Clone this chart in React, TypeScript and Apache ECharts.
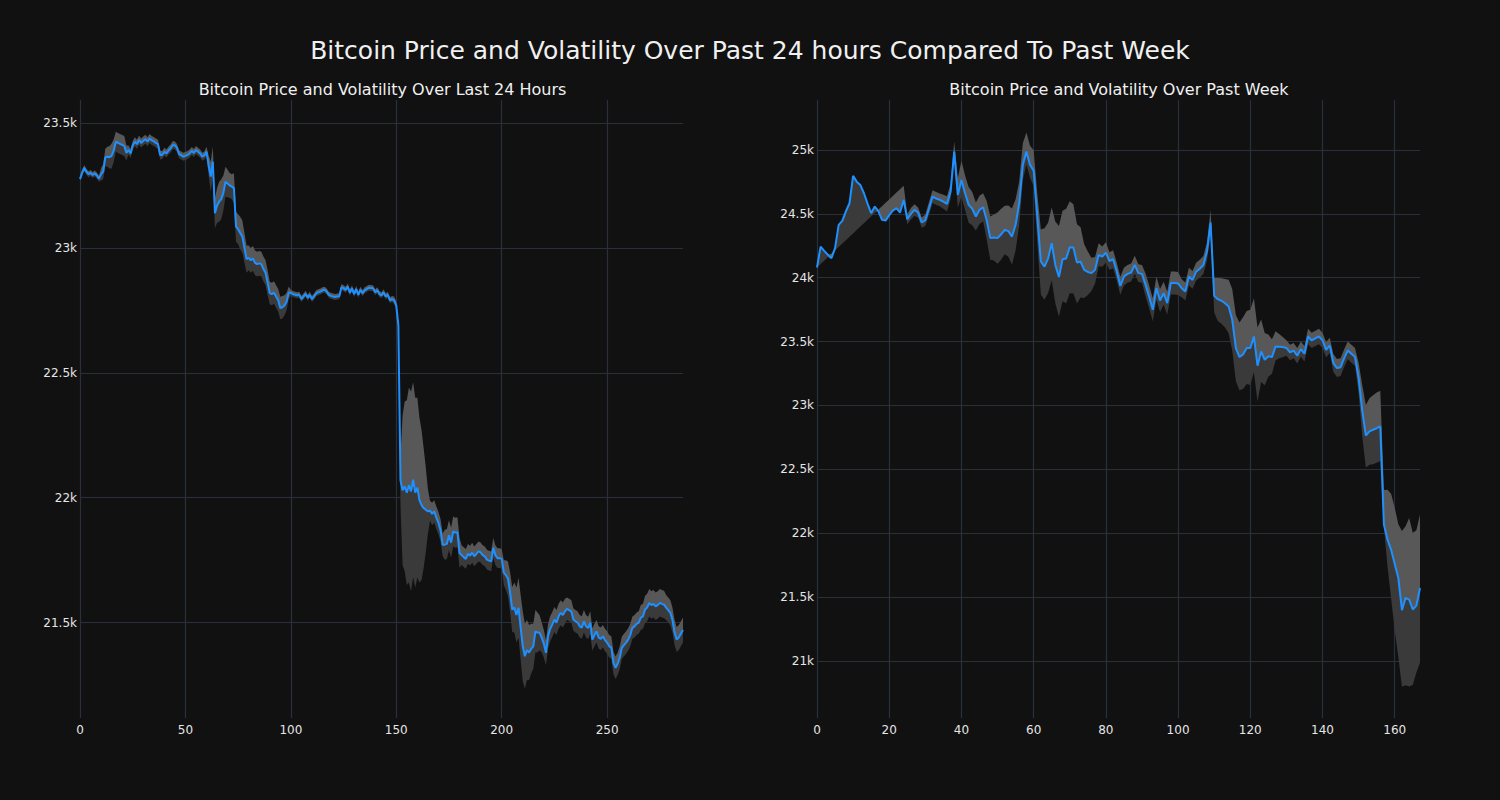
import React, { useEffect, useRef } from "react";
import * as echarts from "echarts";

// ---- Last 24 hours (5-minute steps) ----
const dayPrice: number[] = [
  23275, 23300, 23320, 23305, 23295, 23300, 23292, 23298, 23290, 23277,
  23295, 23305, 23362, 23365, 23363, 23368, 23390, 23425, 23420, 23416,
  23412, 23408, 23380, 23392, 23378, 23410, 23425, 23415, 23432, 23420,
  23428, 23435, 23425, 23438, 23430, 23426, 23420, 23415, 23372, 23372,
  23385, 23378, 23390, 23398, 23412, 23410, 23400, 23375, 23370, 23365,
  23368, 23372, 23378, 23388, 23380, 23392, 23385, 23378, 23365, 23370,
  23385, 23330, 23285, 23345, 23139, 23170, 23185, 23195, 23220, 23265,
  23258, 23250, 23245, 23239, 23085, 23075, 23060, 23045, 23000, 22955,
  22960, 22950, 22958, 22940, 22935, 22938, 22935, 22915, 22900, 22860,
  22819, 22815, 22821, 22805, 22790, 22759, 22762, 22770, 22785, 22820,
  22820, 22815, 22812, 22810, 22812, 22795, 22805, 22816, 22800, 22812,
  22795, 22805, 22818, 22822, 22825, 22830, 22832, 22825, 22812, 22808,
  22805, 22803, 22805, 22806, 22843, 22838, 22832, 22845, 22820, 22838,
  22815, 22835, 22812, 22832, 22818, 22830, 22835, 22840, 22839, 22838,
  22822, 22830, 22815, 22810, 22822, 22805, 22812, 22790, 22795, 22790,
  22770, 22690, 22070, 22030, 22045, 22020, 22050, 22025, 22072, 22020,
  22040, 21990, 21970, 21958, 21952, 21945, 21948, 21935, 21945, 21920,
  21899, 21870, 21812, 21812, 21815, 21850, 21820, 21865, 21860, 21862,
  21779, 21770, 21762, 21755, 21775, 21768, 21780, 21765, 21775, 21785,
  21781, 21770, 21765, 21752, 21748, 21745, 21799, 21770, 21758, 21758,
  21755, 21700, 21690, 21675, 21620, 21552, 21560, 21530, 21559, 21480,
  21405, 21365, 21390, 21380, 21395, 21405, 21465, 21460, 21459, 21440,
  21415, 21379, 21445, 21475, 21492, 21512, 21500, 21525, 21539, 21530,
  21545, 21555, 21550, 21545, 21512, 21505, 21500, 21485, 21480, 21505,
  21485, 21478, 21500, 21432, 21450, 21465, 21440, 21435, 21445, 21430,
  21420, 21405, 21400, 21339, 21319, 21335, 21360, 21399, 21410, 21420,
  21432, 21450, 21479, 21485, 21495, 21500, 21520, 21525, 21552, 21560,
  21579, 21570, 21575, 21565, 21570, 21579, 21575, 21572, 21560, 21550,
  21539, 21510, 21460, 21432, 21440, 21455, 21470,
];

const dayVolatility: number[] = [
  12, 12, 12, 12, 12, 12, 12, 12, 12, 12,
  25, 30, 35, 40, 45, 50, 45, 40, 40, 40,
  40, 40, 30, 18, 18, 18, 18, 18, 18, 18,
  18, 18, 18, 18, 18, 18, 18, 18, 18, 16,
  16, 16, 16, 16, 16, 16, 16, 16, 16, 16,
  16, 16, 16, 16, 16, 16, 16, 16, 16, 16,
  20, 40, 60, 60, 60, 70, 80, 80, 70, 60,
  55, 50, 50, 60, 60, 60, 65, 65, 60, 55,
  50, 50, 50, 50, 50, 50, 50, 50, 50, 50,
  45, 45, 45, 45, 45, 45, 45, 40, 35, 25,
  12, 12, 12, 12, 12, 12, 12, 12, 12, 12,
  12, 12, 12, 12, 12, 12, 12, 12, 12, 12,
  12, 12, 12, 12, 12, 12, 12, 12, 12, 12,
  12, 12, 12, 12, 12, 12, 12, 12, 12, 12,
  12, 12, 12, 12, 12, 12, 12, 12, 12, 15,
  15, 15, 100, 300, 340, 370, 390, 400, 390, 380,
  360, 330, 300, 240, 170, 90, 40, 45, 45, 45,
  45, 45, 45, 60, 60, 60, 60, 60, 60, 60,
  60, 40, 40, 40, 40, 40, 40, 40, 40, 40,
  40, 40, 40, 40, 40, 40, 40, 40, 40, 40,
  40, 50, 60, 70, 80, 90, 100, 110, 120, 130,
  140, 130, 120, 110, 100, 90, 85, 80, 70, 60,
  55, 50, 50, 50, 50, 50, 50, 50, 50, 50,
  50, 45, 45, 45, 45, 45, 45, 45, 45, 45,
  45, 45, 45, 45, 45, 45, 45, 45, 45, 45,
  45, 45, 45, 45, 45, 45, 45, 45, 45, 45,
  45, 45, 45, 45, 45, 45, 50, 50, 55, 55,
  55, 55, 55, 55, 55, 55, 55, 55, 50, 50,
  50, 50, 50, 50, 50, 50, 50,
];

// ---- Past week (hourly) ----
const weekPrice: number[] = [
  24080, 24244, 24210, 24180, 24153, 24231, 24414, 24445, 24520, 24583,
  24797, 24752, 24726, 24661, 24580, 24505, 24557, 24520, 24453, 24447,
  24490, 24525, 24544, 24510, 24609, 24458, 24500, 24531, 24510, 24432,
  24450, 24540, 24635, 24620, 24610, 24595, 24578, 24674, 24987, 24648,
  24765, 24661, 24570, 24540, 24479, 24531, 24552, 24450, 24310, 24315,
  24310, 24340, 24374, 24365, 24322, 24414, 24583, 24883, 24987, 24883,
  24838, 24480, 24127, 24087, 24150, 24270, 24100, 24005, 24145, 24150,
  24239, 24236, 24119, 24125, 24062, 24045, 24036, 24062, 24179, 24165,
  24197, 24130, 24145, 24050, 23937, 24009, 24030, 24041, 24101, 24036,
  24030, 23944, 23850, 23749, 23918, 23822, 23879, 23801, 23958, 23958,
  23955, 23918, 23892, 24009, 23983, 24048, 24070, 24100, 24205, 24431,
  23858, 23832, 23820, 23800, 23775, 23671, 23449, 23379, 23400, 23449,
  23450, 23540, 23311, 23423, 23358, 23385, 23379, 23462, 23460, 23457,
  23450, 23415, 23430, 23389, 23441, 23405, 23540, 23509, 23525, 23540,
  23510, 23436, 23470, 23332, 23293, 23300, 23371, 23431, 23405, 23379,
  23215, 22960, 22764, 22797, 22810, 22822, 22836, 22068, 21950, 21870,
  21760, 21650, 21398, 21495, 21480, 21403, 21434, 21572,
];

const weekVolUp: number[] = [
  0, 0, 0, 0, 34, 0, 0, 0, 0, 0,
  0, 0, 0, 0, 0, 0, 0, 13, 107, 140,
  123, 115, 123, 183, 111, 40, 45, 45, 40, 40,
  45, 50, 50, 50, 50, 55, 60, 60, 80, 130,
  150, 140, 140, 130, 110, 110, 110, 150, 170, 180,
  200, 200, 190, 200, 220, 200, 170, 170, 150, 150,
  160, 180, 250, 300, 280, 280, 340, 400, 380, 390,
  360, 340, 300, 270, 200, 160, 120, 100, 90, 80,
  80, 70, 70, 70, 70, 70, 70, 70, 70, 70,
  70, 90, 90, 90, 90, 90, 90, 90, 90, 90,
  90, 70, 70, 70, 70, 70, 70, 70, 70, 100,
  140, 165, 175, 190, 210, 240, 260, 270, 290, 290,
  300, 300, 300, 250, 210, 170, 140, 120, 100, 80,
  60, 60, 60, 60, 60, 60, 60, 60, 60, 60,
  60, 60, 60, 70, 70, 70, 70, 70, 70, 70,
  120, 200, 240, 260, 270, 280, 280, 270, 390, 440,
  440, 420, 620, 560, 640, 600, 590, 574,
];

const weekVolDown: number[] = [
  0, 137, 77, 20, 0, 18, 174, 178, 227, 263,
  450, 379, 326, 234, 127, 25, 50, 0, 0, 0,
  0, 0, 0, 0, 0, 40, 45, 45, 40, 40,
  45, 50, 50, 50, 50, 55, 60, 60, 80, 100,
  130, 130, 140, 130, 110, 110, 110, 150, 170, 180,
  200, 200, 190, 200, 220, 200, 170, 120, 100, 100,
  120, 200, 260, 260, 270, 290, 300, 310, 330, 350,
  360, 360, 320, 280, 220, 180, 140, 110, 90, 80,
  80, 70, 70, 70, 70, 70, 70, 70, 70, 70,
  70, 90, 90, 90, 90, 90, 90, 90, 90, 90,
  90, 70, 70, 70, 70, 70, 70, 70, 70, 100,
  130, 170, 180, 190, 210, 240, 260, 260, 270, 280,
  290, 280, 280, 240, 200, 160, 130, 110, 90, 80,
  60, 60, 60, 60, 60, 60, 60, 60, 60, 60,
  60, 60, 60, 70, 70, 70, 70, 70, 70, 70,
  120, 200, 250, 260, 270, 270, 270, 20, 210, 380,
  520, 620, 600, 685, 680, 590, 524, 586,
];

const dayTickEvery = 50;
const weekTickEvery = 20;
const dayYRange = { min: 21118, max: 23592 };
const weekYRange = { min: 20554, max: 25391 };

const mainTitle = "Bitcoin Price and Volatility Over Past 24 hours Compared To Past Week";
const dayTitle = "Bitcoin Price and Volatility Over Last 24 Hours";
const weekTitle = "Bitcoin Price and Volatility Over Past Week";

const FONT = "DejaVu Sans";
const GRID_COLOR = "#2a303b";
const LABEL_COLOR = "#e6e6e6";
const LINE_COLOR = "#1e90ff";
const BAND_UP = "#585858";
const BAND_DOWN = "#3a3a3a";

function bandSeries(idx: number, price: number[], up: number[], down: number[]) {
  const stack = "band" + idx;
  const common = {
    type: "line",
    xAxisIndex: idx,
    yAxisIndex: idx,
    stack,
    symbol: "none",
    silent: true,
    lineStyle: { width: 0, opacity: 0 },
  };
  return [
    { ...common, name: stack + "base", data: price.map((p, i) => p - down[i]) },
    {
      ...common,
      name: stack + "down",
      data: down.slice(),
      areaStyle: { color: BAND_DOWN, opacity: 1 },
    },
    {
      ...common,
      name: stack + "up",
      data: up.slice(),
      areaStyle: { color: BAND_UP, opacity: 1 },
    },
    {
      type: "line",
      xAxisIndex: idx,
      yAxisIndex: idx,
      symbol: "none",
      silent: true,
      z: 5,
      data: price.slice(),
      lineStyle: { color: LINE_COLOR, width: 2 },
    },
  ];
}

function xAxis(idx: number, n: number, every: number) {
  return {
    type: "category",
    gridIndex: idx,
    boundaryGap: false,
    data: Array.from({ length: n }, (_, i) => String(i)),
    axisLine: { show: false },
    axisTick: { show: false },
    axisLabel: {
      color: LABEL_COLOR,
      fontFamily: FONT,
      fontSize: 12,
      margin: 6,
      interval: every - 1,
    },
    splitLine: { show: true, interval: every - 1, lineStyle: { color: GRID_COLOR, width: 1.2 } },
  };
}

function yAxis(idx: number, r: { min: number; max: number }) {
  return {
    type: "value",
    gridIndex: idx,
    min: r.min,
    max: r.max,
    minInterval: 500,
    maxInterval: 500,
    axisLine: { show: false },
    axisTick: { show: false },
    axisLabel: {
      color: LABEL_COLOR,
      fontFamily: FONT,
      fontSize: 12,
      margin: 3,
      showMinLabel: false,
      showMaxLabel: false,
      formatter: (v: number) => v / 1000 + "k",
    },
    splitLine: {
      show: true,
      showMinLine: false,
      showMaxLine: false,
      lineStyle: { color: GRID_COLOR, width: 1.2 },
    },
  };
}

export default function App() {
  const ref = useRef<HTMLDivElement>(null);
  useEffect(() => {
    if (!ref.current) return;
    const chart = echarts.init(ref.current, null, { renderer: "svg" });
    chart.setOption({
      animation: false,
      backgroundColor: "#111111",
      title: [
        {
          text: mainTitle,
          left: 745,
          top: 33,
          textAlign: "center",
          textStyle: { color: "#f0f0f0", fontFamily: FONT, fontSize: 25, fontWeight: "normal" },
        },
        {
          text: dayTitle,
          left: 377.5,
          top: 76,
          textAlign: "center",
          textStyle: { color: "#f0f0f0", fontFamily: FONT, fontSize: 16, fontWeight: "normal" },
        },
        {
          text: weekTitle,
          left: 1114,
          top: 76,
          textAlign: "center",
          textStyle: { color: "#f0f0f0", fontFamily: FONT, fontSize: 16, fontWeight: "normal" },
        },
      ],
      grid: [
        { left: 80, right: 817, top: 100, bottom: 82 },
        { left: 817, right: 80, top: 100, bottom: 82 },
      ],
      xAxis: [
        xAxis(0, dayPrice.length, dayTickEvery),
        xAxis(1, weekPrice.length, weekTickEvery),
      ],
      yAxis: [yAxis(0, dayYRange), yAxis(1, weekYRange)],
      series: [
        ...bandSeries(0, dayPrice, dayVolatility, dayVolatility),
        ...bandSeries(1, weekPrice, weekVolUp, weekVolDown),
      ],
    });
    return () => chart.dispose();
  }, []);
  return (
    <div
      ref={ref}
      style={{ position: "fixed", left: 0, top: 0, width: 1500, height: 800, background: "#111111" }}
    />
  );
}
